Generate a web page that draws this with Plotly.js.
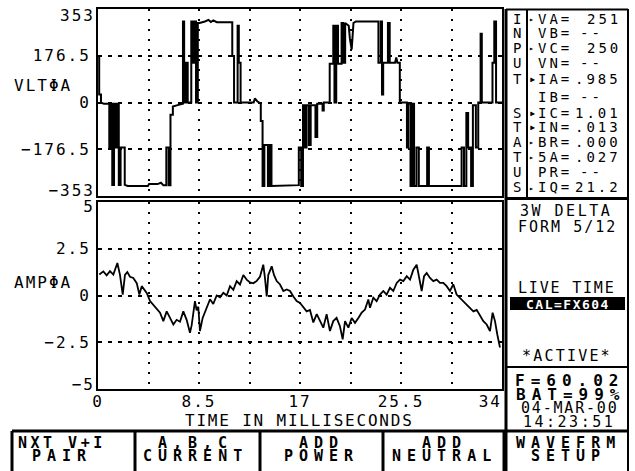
<!DOCTYPE html>
<html>
<head>
<meta charset="utf-8">
<script src="https://cdn.plot.ly/plotly-3.0.1.min.js"></script>
<style>
  html, body { margin: 0; padding: 0; background: #fff; }
  #chart { width: 635px; height: 471px; }
</style>
</head>
<body>
<div id="chart"></div>
<script>
// Phase A voltage, 0–34 ms (stepped waveform, vertical edges repeat the time value)
const tVolt = [
  0.00, 0.10, 0.10, 0.25, 0.25, 0.50, 0.95, 0.95, 1.05, 1.05, 1.20, 1.20, 1.35, 1.35, 1.50, 1.50,
  1.60, 1.60, 1.75, 1.75, 1.90, 1.90, 2.25, 2.25, 2.50, 4.20, 4.30, 5.00, 5.30, 5.50, 5.75, 5.75,
  5.95, 5.95, 6.10, 6.10, 6.30, 6.30, 6.70, 7.15, 7.15, 7.25, 7.25, 7.40, 7.40, 7.55, 7.55, 7.85,
  7.85, 8.00, 8.00, 8.10, 8.10, 8.25, 8.25, 8.40, 8.40, 8.55, 9.00, 9.30, 9.50, 9.70, 10.00, 11.30,
  11.30, 11.45, 11.45, 11.75, 11.75, 11.85, 11.85, 12.00, 12.00, 13.10, 13.20, 13.40, 13.70, 13.70, 13.85, 13.85,
  14.00, 14.00, 14.30, 14.30, 14.45, 14.45, 14.60, 14.60, 16.90, 16.90, 17.10, 17.10, 17.25, 17.25, 17.40, 17.40,
  17.55, 17.55, 17.75, 17.75, 17.90, 17.90, 18.30, 18.30, 18.45, 18.45, 18.90, 18.90, 19.00, 19.00, 19.50, 19.50,
  19.80, 19.80, 19.90, 19.90, 20.05, 20.05, 20.20, 20.20, 20.50, 20.50, 20.65, 20.65, 20.80, 20.80, 21.10, 21.20,
  21.35, 21.45, 21.50, 21.70, 23.60, 23.60, 23.80, 23.80, 23.90, 23.90, 24.00, 24.00, 24.40, 24.40, 24.55, 24.55,
  25.00, 25.10, 25.20, 25.40, 25.40, 26.00, 26.00, 26.10, 26.10, 26.30, 26.30, 26.45, 26.45, 26.60, 26.60, 26.80,
  26.80, 27.00, 27.00, 27.70, 27.70, 27.85, 27.85, 30.60, 30.60, 30.80, 30.80, 31.00, 31.00, 31.15, 31.15, 31.40,
  31.40, 31.55, 31.55, 31.80, 31.80, 32.00, 32.00, 32.20, 32.20, 32.30, 32.30, 32.50, 33.20, 33.20, 33.35, 33.35,
  33.50, 33.50, 34.00
];
const vVolt = [
  176, 176, 30, 30, 0, -5, -5, -170, -170, -5, -5, -311, -311, -5, -5, -170,
  -170, -5, -5, -311, -311, -170, -170, -311, -315, -315, -308, -308, -303, -312, -312, -170,
  -170, -312, -312, -46, -46, -15, -10, -5, 306, 306, 0, 0, 150, 150, 0, 0,
  306, 306, 150, 150, 306, 306, 0, 0, 300, 300, 306, 312, 304, 310, 303, 303,
  176, 176, 0, 0, 290, 290, 150, 150, 0, 0, 15, 5, -5, -70, -70, -315,
  -315, -160, -160, -315, -315, -160, -160, -315, -312, -170, -170, -315, -315, -10, -10, -170,
  -170, -10, -10, -160, -160, -10, -10, -130, -130, -5, -5, -30, -30, 0, 0, 146,
  146, 290, 290, 0, 0, 290, 290, 146, 146, 300, 300, 150, 150, 300, 290, 240,
  200, 260, 300, 306, 306, 150, 150, 306, 306, 30, 30, 150, 150, 300, 300, 150,
  150, 170, 150, 150, 0, 0, -170, -170, -5, -5, -315, -315, -5, -5, -315, -315,
  -170, -170, -315, -315, -170, -170, -315, -315, -170, -170, -315, -315, -40, -40, -170, -170,
  -315, -315, -10, -10, -170, -170, 0, 0, 260, 260, 0, 0, 0, 150, 150, 306,
  306, 0, 0
];

// Phase A current, 0–34 ms
const tAmp = [
  0.11, 0.45, 0.73, 1.01, 1.29, 1.63, 1.85, 2.08, 2.27, 2.47, 2.69, 2.97, 3.26, 3.48, 3.68, 3.87,
  4.10, 4.38, 4.66, 4.94, 5.22, 5.50, 5.78, 6.06, 6.34, 6.62, 6.90, 7.18, 7.46, 7.74, 7.88, 8.16,
  8.30, 8.44, 8.58, 8.81, 9.15, 9.43, 9.70, 9.99, 10.27, 10.55, 10.83, 11.11, 11.39, 11.67, 11.95, 12.23,
  12.51, 12.79, 13.07, 13.36, 13.63, 13.91, 14.05, 14.20, 14.33, 14.62, 14.81, 15.04, 15.32, 15.60, 15.88, 16.16,
  16.44, 16.72, 17.00, 17.28, 17.56, 17.84, 18.12, 18.41, 18.68, 18.96, 19.24, 19.52, 19.80, 20.08, 20.36, 20.59,
  20.79, 21.07, 21.35, 21.63, 21.91, 22.19, 22.47, 22.75, 22.89, 23.17, 23.45, 23.73, 24.01, 24.29, 24.57, 24.85,
  25.14, 25.42, 25.70, 25.98, 26.26, 26.54, 26.82, 27.04, 27.24, 27.44, 27.66, 27.94, 28.22, 28.50, 28.78, 29.06,
  29.34, 29.62, 29.90, 30.18, 30.46, 30.75, 31.03, 31.31, 31.59, 31.87, 32.15, 32.43, 32.71, 32.99, 33.21, 33.41,
  33.60, 33.83
];
const vAmp = [
  1.12, 1.29, 1.08, 1.30, 1.12, 1.74, 1.10, 0.05, 1.10, 1.25, 1.00, 0.94, 0.66, 0.05, 0.50, 0.32,
  0.14, -0.30, -0.50, -0.66, -0.92, -1.37, -0.85, -1.20, -1.55, -1.30, -1.40, -0.85, -1.30, -1.99, -1.60, -0.30,
  -0.80, -0.60, -1.90, -1.20, -0.60, -0.20, -0.45, 0.00, -0.10, 0.15, 0.00, 0.50, 0.30, 0.77, 0.59, 1.10,
  0.85, 0.70, 0.65, 0.78, 1.00, 1.65, 0.94, -0.05, 1.10, 1.56, 1.10, 0.77, 0.59, 0.24, 0.32, 0.24,
  -0.05, -0.30, -0.40, -0.66, -0.85, -0.77, -1.44, -1.00, -1.37, -1.72, -1.00, -1.90, -1.37, -1.20, -1.64, -2.34,
  -1.37, -1.72, -1.20, -1.46, -1.20, -0.92, -0.75, -0.21, -0.66, -0.12, -0.30, 0.05, 0.24, 0.05, 0.41, 0.24,
  0.67, 0.85, 0.77, 1.03, 0.85, 1.38, 1.65, 0.94, 0.24, 1.03, 1.20, 0.94, 0.77, 0.85, 0.68, 0.68,
  0.50, 0.24, 0.60, 0.05, -0.12, -0.30, -0.48, -0.66, -0.85, -0.77, -1.10, -1.37, -1.55, -1.90, -0.92, -1.37,
  -2.07, -2.78
];

// Axis ticks and labels (outer labels sit just inside the frame, so they get their own axes)
const timeTicks  = [0, 4.25, 8.5, 12.75, 17, 21.25, 25.5, 29.75, 34];
const timeLabels = ['0', '', '8.5', '', '17', '', '25.5', '', '34\u00a0\u00a0'];
const voltTicks  = [-353, -176.5, 0, 176.5, 353];
const voltLabels = ['', '\u2212176.5', '0', '176.5', ''];
const voltEndTicks  = [-353, 353];
const voltEndLabels = ['\u2212353', '353'];
const ampTicks   = [-5, -2.5, 0, 2.5, 5];
const ampLabels  = ['', '\u22122.5', '0', '2.5', ''];
const ampEndTicks  = [-5, 5];
const ampEndLabels = ['\u22125', '5'];

// Status panel readings
const statusNames  = ['VA=', 'VB=', 'VC=', 'VN=', 'IA=', 'IB=', 'IC=', 'IN=', 'BR=', '5A=', 'PR=', 'IQ='];
const statusValues = ['251', '--', '250', '--', '.985', '--', '1.01', '.013', '.000', '.027', '--', '21.2'];
const statusMarks  = ['s', '', 's', '', 'b', '', 'b', 'b', 's', 's', '', 's'];
const statusLetters = ['I', 'N', 'P', 'U', 'T', '', 'S', 'T', 'A', 'T', 'U', 'S'];
const statusRowsY  = [19, 33, 48, 63, 79, 97, 113, 127, 142, 157, 172, 187];

// Soft-key labels along the bottom
const keyTop    = ['NXT V+I', 'A,B,C', 'ADD', 'ADD', 'WAVEFRM'];
const keyBottom = ['PAIR', 'CURRENT', 'POWER', 'NEUTRAL', 'SETUP'];
const keyCenters = [62, 195, 321, 444, 568];

const W = 635, H = 471;
const px = x => x / W;
const py = y => 1 - y / H;
const MONO = 'DejaVu Sans Mono, monospace';
const sp = (s, ls) => '<span style="letter-spacing:' + ls + 'px">' + s + '</span>';

function ann(x, y, text, size, opts) {
  opts = opts || {};
  return {
    xref: 'paper', yref: 'paper', x: px(x), y: py(y),
    text: text, showarrow: false,
    xanchor: opts.anchor || 'center', yanchor: 'middle',
    font: { family: MONO, size: size, color: opts.color || '#000', weight: opts.bold ? 'bold' : 'normal' },
    borderpad: 0
  };
}

function line(x0, y0, x1, y1, w) {
  return { type: 'line', xref: 'paper', yref: 'paper',
    x0: px(x0), y0: py(y0), x1: px(x1), y1: py(y1),
    line: { color: '#000', width: w } };
}

const tickFont = { family: MONO, size: 16, color: '#000' };
const frame = {
  showline: true, mirror: true, linecolor: '#000', linewidth: 2,
  ticks: '', zeroline: false, showgrid: true, gridcolor: '#000', gridwidth: 2,
  fixedrange: true
};
const labelOnly = {
  showline: false, showgrid: false, zeroline: false, ticks: '', fixedrange: true,
  tickmode: 'array', tickfont: tickFont, ticklabelstandoff: 2, side: 'left'
};

const traces = [
  { x: tVolt, y: vVolt, xaxis: 'x2', yaxis: 'y2', type: 'scatter', mode: 'lines',
    line: { color: '#000', width: 2 }, hoverinfo: 'skip' },
  { x: tAmp, y: vAmp, xaxis: 'x', yaxis: 'y', type: 'scatter', mode: 'lines',
    line: { color: '#000', width: 1.8 }, hoverinfo: 'skip' },
  // empty series that bind the end-label axes to their plots
  { x: [], y: [], xaxis: 'x2', yaxis: 'y3', type: 'scatter', mode: 'lines', hoverinfo: 'skip' },
  { x: [], y: [], xaxis: 'x', yaxis: 'y4', type: 'scatter', mode: 'lines', hoverinfo: 'skip' }
];

const annotations = [];
// axis captions
annotations.push(ann(13, 86, sp('VLT\u03A6A', 2), 16, { anchor: 'left' }));
annotations.push(ann(13, 282, sp('AMP\u03A6A', 2), 16, { anchor: 'left' }));
annotations.push(ann(299, 420, sp('TIME IN MILLISECONDS', 1.8), 16));

// status panel
statusRowsY.forEach((y, i) => {
  if (statusLetters[i]) annotations.push(ann(517, y, statusLetters[i], 14));
  annotations.push(ann(537, y, sp(statusNames[i], 3), 14, { anchor: 'left' }));
  const v = statusValues[i];
  annotations.push(ann(v === '--' ? 604 : 622, y, sp(v, 3), 14, { anchor: 'right' }));
  if (statusMarks[i] === 'b') annotations.push(ann(532, y, '\u25B8', 12));
  if (statusMarks[i] === 's') annotations.push(ann(531, y + 1, '\u25B8', 8));
});

// wiring / mode box
annotations.push(ann(566, 211, sp('3W DELTA', 2.5), 15));
annotations.push(ann(567, 227, sp('FORM 5/12', 2), 15));
annotations.push(ann(566, 288, sp('LIVE TIME', 1.8), 15));
annotations.push(ann(568, 304, sp('CAL=FX604', 1.5), 13, { color: '#fff', bold: true }));
annotations.push(ann(567, 356, sp('*ACTIVE*', 2.2), 15));

// frequency / battery / clock box
annotations.push(ann(569, 380, sp('F=60.02', 6), 16, { bold: true }));
annotations.push(ann(570, 394, sp('BAT=99%', 6), 16, { bold: true }));
annotations.push(ann(569, 408, sp('04-MAR-00', 1.8), 15));
annotations.push(ann(569, 422, sp('14:23:51', 2.5), 15));

// soft keys
keyCenters.forEach((cx, i) => {
  annotations.push(ann(cx, 443, sp(keyTop[i], i === 0 ? 3.5 : 6), 15, { bold: true }));
  annotations.push(ann(cx, 456, sp(keyBottom[i], 6), 15, { bold: true }));
});

const shapes = [
  line(506, 9, 506, 431, 3),
  line(628, 9, 628, 471, 2),
  line(506, 9.5, 628, 9.5, 2),
  line(527, 9, 527, 198, 2),
  line(506, 198.5, 628, 198.5, 3),
  line(506, 367, 628, 367, 2),
  line(12, 431, 628, 431, 3),
  line(12, 431, 12, 471, 3),
  line(135, 431, 135, 471, 3),
  line(260, 431, 260, 471, 3),
  line(383, 431, 383, 471, 3),
  line(505, 431, 505, 471, 5),
  { type: 'rect', xref: 'paper', yref: 'paper',
    x0: px(510), x1: px(625), y0: py(310), y1: py(297),
    line: { width: 0 }, fillcolor: '#000', layer: 'below' }
];

// label axes: ±353 drawn at y=15 / 190, ±5 at y=207 / 385
const voltSpan = 353 * 93.5 / 87.5;
const ampSpan = 5 * 93.5 / 89;

const layout = {
  width: W, height: H,
  margin: { l: 0, r: 0, t: 0, b: 0 },
  paper_bgcolor: '#fff', plot_bgcolor: '#fff',
  showlegend: false,
  xaxis: Object.assign({}, frame, {
    domain: [px(98), px(502)], range: [0, 34], anchor: 'y',
    tickmode: 'array', tickvals: timeTicks, ticktext: timeLabels.map(s => sp(s, 2)),
    tickfont: tickFont, griddash: '2px,8px', ticklabelstandoff: -3
  }),
  yaxis: Object.assign({}, frame, {
    domain: [py(389), py(202)], range: [-5, 5], anchor: 'x',
    tickmode: 'array', tickvals: ampTicks, ticktext: ampLabels.map(s => sp(s, 2)),
    tickfont: tickFont, griddash: '4px,6px', ticklabelstandoff: 2
  }),
  xaxis2: Object.assign({}, frame, {
    domain: [px(98), px(502)], range: [0, 34], anchor: 'y2',
    tickmode: 'array', tickvals: timeTicks, showticklabels: false,
    griddash: '2px,8px'
  }),
  yaxis2: Object.assign({}, frame, {
    domain: [py(196), py(9)], range: [-353, 353], anchor: 'x2',
    tickmode: 'array', tickvals: voltTicks, ticktext: voltLabels.map(s => sp(s, 2)),
    tickfont: tickFont, griddash: '4px,6px', ticklabelstandoff: 2
  }),
  yaxis3: Object.assign({}, labelOnly, {
    overlaying: 'y2', anchor: 'x2', range: [-voltSpan, voltSpan],
    tickvals: voltEndTicks, ticktext: voltEndLabels.map(s => sp(s, 2))
  }),
  yaxis4: Object.assign({}, labelOnly, {
    overlaying: 'y', anchor: 'x', range: [-ampSpan, ampSpan],
    tickvals: ampEndTicks, ticktext: ampEndLabels.map(s => sp(s, 2))
  }),
  annotations: annotations,
  shapes: shapes
};

Plotly.newPlot('chart', traces, layout, { staticPlot: true, displayModeBar: false });
</script>
</body>
</html>
